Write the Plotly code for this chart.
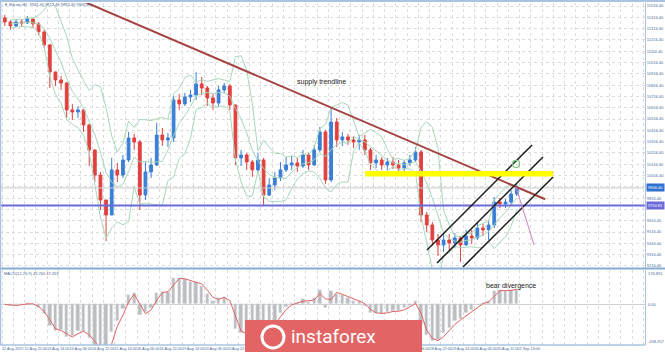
import plotly.graph_objects as go
import pandas as pd

# ---------------- data ----------------
# x = trading hours since 12 Aug 2019 06:00 (weekends skipped); one candle per 4 hours
candle_hour = list(range(2, 368, 4))
first_open = 11411
closes = [11375, 11340, 11375, 11366, 11402, 11358, 11287, 11172, 10933, 10862,
          10835, 10597, 10579, 10597, 10464, 10243, 10021, 9800, 9667, 10066,
          10021, 10154, 10349, 10313, 9844, 10048, 10110, 10375, 10331, 10349,
          10685, 10650, 10712, 10729, 10827, 10791, 10703, 10658, 10774, 10809,
          10641, 10172, 10198, 10136, 10066, 10154, 9844, 9933, 9995, 10066,
          10110, 10128, 10101, 10198, 10110, 10243, 10402, 9977, 10490, 10331,
          10358, 10331, 10313, 10331, 10243, 10128, 10154, 10110, 10136, 10110,
          10083, 10128, 10154, 10225, 9667, 9579, 9446, 9402, 9446, 9419,
          9464, 9402, 9481, 9464, 9552, 9535, 9579, 9782, 9765, 9782,
          9853, 9906]
highs = [11437, 11393, 11402, 11402, 11428, 11402, 11375, 11305, 11181, 10933,
         10897, 10844, 10650, 10632, 10597, 10473, 10243, 10048, 9800, 10172,
         10128, 10198, 10402, 10384, 10331, 10136, 10172, 10482, 10437, 10393,
         10720, 10738, 10747, 10774, 10933, 10889, 10809, 10738, 10809, 10835,
         10827, 10641, 10243, 10216, 10154, 10216, 10172, 9995, 10048, 10136,
         10181, 10189, 10172, 10243, 10216, 10287, 10446, 10420, 10614, 10526,
         10402, 10384, 10366, 10375, 10375, 10260, 10198, 10181, 10172, 10181,
         10154, 10154, 10198, 10269, 10243, 9694, 9605, 9499, 9517, 9499,
         9508, 9481, 9535, 9535, 9605, 9588, 9623, 9827, 9818, 9809,
         9889, 9942]
lows = [11340, 11305, 11331, 11331, 11358, 11322, 11260, 11145, 10791, 10809,
        10774, 10526, 10508, 10526, 10402, 10101, 9959, 9712, 9437, 9667,
        9959, 9995, 10136, 10243, 9712, 9800, 9995, 10101, 10278, 10269,
        10313, 10597, 10632, 10667, 10685, 10729, 10632, 10597, 10632, 10747,
        10597, 10110, 10101, 10066, 10004, 10048, 9756, 9835, 9889, 9968,
        10048, 10066, 10048, 10083, 10066, 10101, 10225, 9942, 9959, 10269,
        10278, 10287, 10260, 10243, 10198, 10066, 10083, 10066, 10066, 10074,
        10048, 10030, 10101, 10136, 9605, 9517, 9393, 9304, 9340, 9358,
        9375, 9251, 9393, 9411, 9446, 9481, 9446, 9552, 9729, 9729,
        9747, 9835]
opens = [first_open] + closes[:-1]

tick_hours = list(range(0, 369, 16))
tick_labels = ["12 Aug 2019", "12 Aug 22:00", "13 Aug 14:00", "14 Aug 06:00", "14 Aug 22:00",
               "15 Aug 14:00", "16 Aug 06:00", "16 Aug 22:00", "19 Aug 14:00", "20 Aug 06:00",
               "20 Aug 22:00", "21 Aug 14:00", "22 Aug 06:00", "22 Aug 22:00", "23 Aug 14:00",
               "26 Aug 06:00", "26 Aug 22:00", "27 Aug 14:00", "28 Aug 06:00", "28 Aug 22:00",
               "29 Aug 14:00", "30 Aug 06:00", "30 Aug 22:00", "2 Sep 14:00"]
price_ticks = [9216.4 + 100 * k for k in range(24)]

# analyst drawings (hour, price)
trend_hours, trend_prices = [55.5, 386.2], [11570, 9806]
chan_up_hours, chan_up_prices = [302.2, 376.9], [9358, 10287]
chan_mid_hours, chan_mid_prices = [309.3, 384.7], [9242, 10181]
chan_low_hours, chan_low_prices = [327.8, 391.8], [9207, 10004]
proj_hours, proj_prices = [365.5, 378.3], [9915, 9402]
zone_hours, zone_prices = [258.2, 391.8], [10008, 10057]
mark_hour, mark_price = [365.5], [10119]
support_price = 9750.81
last_price = 9906.40
macd_top, macd_bottom = 176.891, -208.257

# ---------------- indicators ----------------
c = pd.Series(closes, dtype=float)
mid = c.rolling(5, min_periods=2).mean()
sd = c.rolling(5, min_periods=2).std(ddof=0)
bb_up, bb_lo = mid + 2 * sd, mid - 2 * sd
macd = c.ewm(span=3, adjust=False).mean() - c.ewm(span=6.5, adjust=False).mean()
signal = macd.rolling(2, min_periods=1).mean()

# ---------------- figure ----------------
W, H = 665, 352
RIGHT = 645
XR = [-1.42, 457.2]
fig = go.Figure()

bb_style = dict(color="#a8d8b9", width=1)
for s in (bb_up, mid, bb_lo):
    fig.add_trace(go.Scatter(x=candle_hour, y=s, mode="lines", line=bb_style, hoverinfo="skip"))

fig.add_trace(go.Candlestick(
    x=candle_hour, open=opens, high=highs, low=lows, close=closes,
    increasing=dict(line=dict(color="#3a7fd6", width=1), fillcolor="#3a7fd6"),
    decreasing=dict(line=dict(color="#e0413f", width=1), fillcolor="#e0413f"),
    whiskerwidth=0))

def line(xs, ys, color, width):
    fig.add_trace(go.Scatter(x=xs, y=ys, mode="lines", line=dict(color=color, width=width),
                             hoverinfo="skip"))

line(XR, [last_price, last_price], "#c8c8c8", 1)
line(XR, [support_price, support_price], "#6a6ad8", 2)
line(trend_hours, trend_prices, "#a3423f", 2)
line(chan_up_hours, chan_up_prices, "#1a1a1a", 1.5)
line(chan_mid_hours, chan_mid_prices, "#1a1a1a", 1.5)
line(chan_low_hours, chan_low_prices, "#1a1a1a", 1.5)
line(proj_hours, proj_prices, "#cc80cc", 1)
fig.add_trace(go.Scatter(x=mark_hour, y=mark_price, mode="markers",
                         marker=dict(symbol="circle-open", size=7, color="#7cc47c", line=dict(width=1.2))))

# MACD panel
fig.add_trace(go.Bar(x=candle_hour, y=macd, marker_color="#bdbdbd", width=2.4, yaxis="y2"))
fig.add_trace(go.Scatter(x=candle_hour, y=signal, mode="lines", line=dict(color="#e06464", width=1),
                         yaxis="y2"))

def py(p):
    return 1 - p / H

shown_ticks = [v for v in price_ticks
               if abs(v - last_price) > 45 and abs(v - support_price) > 45]

lab = dict(size=4, color="#4a6a9a")
grid = dict(showgrid=True, gridcolor="#dcdcdc", griddash="dot", gridwidth=1)
fig.update_layout(
    width=W, height=H, margin=dict(l=0, r=0, t=0, b=0, autoexpand=False),
    paper_bgcolor="white", plot_bgcolor="white", showlegend=False,
    font=dict(family="Liberation Sans, Arial", color="#333"),
    bargap=0,
    xaxis=dict(domain=[0, RIGHT / W], range=XR, anchor="y2", rangeslider=dict(visible=False),
               automargin=False, tickangle=0,
               tickmode="array", tickvals=tick_hours, ticktext=tick_labels,
               tickfont=dict(size=3.8, color="#4a6a9a"), ticklabelposition="outside right",
               ticks="", showline=False, zeroline=False,
               minor=dict(dtick=8, tick0=0, **grid), **grid),
    yaxis=dict(domain=[py(268), py(3)], range=[9198, 11543], side="right", anchor="x",
               automargin=False,
               tickmode="array", tickvals=shown_ticks,
               ticktext=["%.2f" % v for v in shown_ticks],
               tickfont=lab, ticks="",
               showline=True, linecolor="#a9c3e0", linewidth=1, zeroline=False,
               minor=dict(tickvals=price_ticks, **grid), **grid),
    yaxis2=dict(domain=[py(345), py(270)], range=[macd_bottom, macd_top], side="right", anchor="x",
                automargin=False, showticklabels=False, ticks="",
                showline=True, linecolor="#a9c3e0", linewidth=1, showgrid=False,
                zeroline=True, zerolinecolor="#d0d0d0", zerolinewidth=1),
)

# zone + frame lines
fig.add_shape(type="rect", xref="x", yref="y", x0=zone_hours[0], x1=zone_hours[1],
              y0=zone_prices[0], y1=zone_prices[1], fillcolor="#ffff00", line_width=0, layer="above")
frame = "#a9c3e0"
fig.add_shape(type="line", xref="paper", yref="paper", x0=0, x1=1, y0=py(1), y1=py(1),
              line=dict(color=frame, width=2))
fig.add_shape(type="line", xref="paper", yref="paper", x0=0, x1=1, y0=py(268.5), y1=py(268.5),
              line=dict(color="#88abd4", width=2))
fig.add_shape(type="line", xref="paper", yref="paper", x0=0, x1=RIGHT / W, y0=py(345), y1=py(345),
              line=dict(color=frame, width=1.5))
fig.add_shape(type="line", xref="paper", yref="paper", x0=0.5 / W, x1=0.5 / W, y0=py(345), y1=py(0),
              line=dict(color=frame, width=1.5))

# price labels on the right axis
for p, bg in ((last_price, "#2f6fd0"), (support_price, "#6a6ad8")):
    fig.add_annotation(xref="paper", yref="y", x=(RIGHT + 1) / W, y=p, xanchor="left", yanchor="middle",
                       text="%.2f" % p, showarrow=False, font=dict(size=4, color="white"),
                       bgcolor=bg, borderpad=1)
# MACD scale labels
for v, anchor in ((macd_top, "top"), (0, "middle"), (macd_bottom, "bottom")):
    fig.add_annotation(xref="paper", yref="y2", x=(RIGHT + 2) / W, y=v, xanchor="left", yanchor=anchor,
                       text="0.00" if v == 0 else "%.3f" % v, showarrow=False,
                       font=lab, borderpad=0)

# text labels
fig.add_annotation(xref="x", yref="y", x=226.9, y=10844, text="supply trendline", showarrow=False,
                   font=dict(size=7, color="#222"))
fig.add_annotation(xref="x", yref="y2", x=362, y=95, text="bear divergence", showarrow=False,
                   font=dict(size=7, color="#222"))
fig.add_annotation(xref="paper", yref="paper", x=2 / W, y=py(5), xanchor="left", yanchor="middle",
                   text="▼ Bitcoin,H1  9901.40 9912.40 9895.40 9906.40", showarrow=False,
                   font=lab)
fig.add_annotation(xref="paper", yref="paper", x=2 / W, y=py(273.5), xanchor="left", yanchor="middle",
                   text="MACD(12,26,9) 43.760 47.263", showarrow=False, font=lab)

# instaforex watermark
fig.add_shape(type="rect", xref="paper", yref="paper", x0=245 / W, x1=422 / W, y0=0, y1=py(320),
              fillcolor="#e26464", line_width=0, layer="above")
fig.add_shape(type="circle", xref="paper", yref="paper", x0=262 / W, x1=284 / W, y0=py(348), y1=py(326),
              line=dict(color="white", width=3), layer="above")
fig.add_annotation(xref="paper", yref="paper", x=333 / W, y=py(336), text="instaforex", showarrow=False,
                   font=dict(size=19, color="white", family="Roboto"), xanchor="center", yanchor="middle")

fig.write_html("out.html")
